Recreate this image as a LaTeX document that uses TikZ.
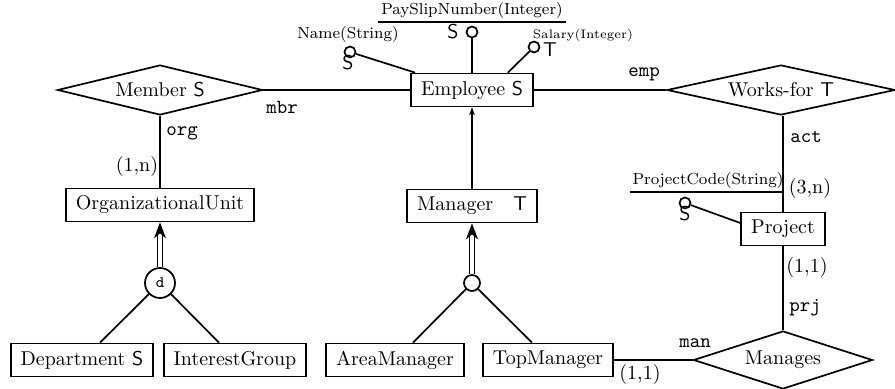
\documentclass[tikz,border=0pt]{standalone}
\usepackage{amsmath}
\usepackage{tikz}
\usetikzlibrary{arrows.meta}
\usetikzlibrary{shapes.geometric}

\begin{document}
\begin{tikzpicture}[x=0.5pt,y=0.5pt,yscale=-1,xscale=1,line width=0.85pt,
  entity/.style={draw, rectangle, minimum height=16.5pt, inner xsep=5pt, inner ysep=0pt},
  relation/.style={draw, diamond, aspect=4, inner sep=0pt},
  attr/.style={draw, circle, inner sep=0pt, minimum size=5.5pt},
  attrname/.style={font=\footnotesize, inner sep=1pt},
  attrsmall/.style={font=\fontsize{6.2}{7}\selectfont, inner sep=1pt},
  tag/.style={font=\sffamily, inner sep=0pt},
  role/.style={font=\ttfamily, inner sep=1pt},
  card/.style={inner sep=1pt},
  gen/.style={draw, circle, inner sep=0pt},
  isa/.style={double, double distance=1.6pt, -{Stealth[length=8pt,width=6pt,inset=2.5pt]}}
]
\useasboundingbox (0,0) rectangle (895,389);

%Entities
\node[entity] (employee) at (472,90) {Employee \textsf{S}};
\node[entity] (orgunit) at (160,205) {OrganizationalUnit};
\node[entity, minimum width=62pt] (manager) at (472,206) {Manager\quad\textsf{T}};
\node[entity] (project) at (783,229) {Project};
\node[entity] (department) at (82,360) {Department \textsf{S}};
\node[entity] (interest) at (235,360) {InterestGroup};
\node[entity] (areamgr) at (395,360) {AreaManager};
\node[entity] (topmgr) at (548,360) {TopManager};

%Relationships
\node[relation, minimum width=102.5pt, minimum height=25pt] (member) at (160,90) {Member \textsf{S}};
\node[relation, minimum width=114pt, minimum height=25pt] (worksfor) at (781,90) {Works-for \textsf{T}};
\node[relation, minimum width=89.5pt, minimum height=29pt] (manages) at (783,360) {Manages};

%Attributes of Employee
\node[attrname] (namel) at (348,35) {Name(String)};
\node[attr] (namec) at (350,52) {};
\node[tag] (names) at (348,63) {S};
\draw (namec) -- ([xshift=2.5pt]employee.north west);

\node[attrname] (payl) at (472,11) {PaySlipNumber(Integer)};
\draw (payl.south west) -- (payl.south east);
\node[attr] (payc) at (472,32) {};
\node[tag] (pays) at (453,32) {S};
\draw (payc) -- (employee);

\node[attrsmall] (sall) at (583,35) {Salary(Integer)};
\node[attr] (salc) at (534,47) {};
\node[tag] (sals) at (550,50) {T};
\draw (salc) -- ([xshift=-13pt]employee.north east);

%Attribute of Project
\node[attrname] (codel) at (708,181) {ProjectCode(String)};
\draw (codel.south west) -- (codel.south east -| project.north);
\node[attr] (codec) at (685,203) {};
\node[tag] (codes) at (685,214) {S};
\draw (codec) -- ([yshift=-3pt]project.west);

%Relationship links
\draw (member) -- (employee);
\draw (employee) -- (worksfor.west);
\draw (member) -- (orgunit);
\draw (worksfor.south -| project.north) -- (project);
\draw (project) -- (manages);
\draw (topmgr) -- (manages);

%Roles and cardinalities
\node[role] (mbr) at (282,107) {mbr};
\node[role] (org) at (182,133) {org};
\node[card] (orgcard) at (137,167) {(1,n)};
\node[role] (emp) at (644,74) {emp};
\node[role] (act) at (806,137) {act};
\node[card] (actcard) at (810,189) {(3,n)};
\node[card] (prjcard) at (807,268) {(1,1)};
\node[role] (prj) at (805,308) {prj};
\node[role] (man) at (695,343) {man};
\node[card] (mancard) at (640,375) {(1,1)};

%Generalizations
\draw[-{Stealth[length=4pt,width=3pt]}] (manager) -- (employee);

\node[gen, minimum size=15pt, font=\footnotesize\ttfamily] (gend) at (160,283) {d};
\draw[isa] (gend) -- (orgunit);
\draw (gend) -- ([xshift=9pt]department.north);
\draw (gend) -- ([xshift=-8pt]interest.north);

\node[gen, minimum size=8pt] (genm) at (472,283) {};
\draw[isa] (genm) -- (manager);
\draw (genm) -- ([xshift=9pt]areamgr.north);
\draw (genm) -- ([xshift=-8pt]topmgr.north);

\end{tikzpicture}
\end{document}
